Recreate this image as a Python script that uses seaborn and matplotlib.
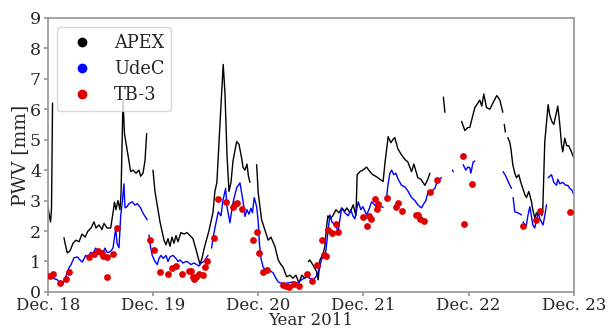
import numpy as np
import pandas as pd
import matplotlib
matplotlib.use('Agg')
import matplotlib.pyplot as plt
import matplotlib.dates as mdates
import seaborn as sns

# days after Dec 18 2011 00:00, PWV in mm; each inner list is one unbroken stretch
apex_days = [
    [0.0, 0.01, 0.024, 0.033, 0.043],
    [0.152, 0.162, 0.183, 0.209, 0.238, 0.266, 0.295, 0.323, 0.352, 0.380, 0.409, 0.437, 0.456, 0.485,
     0.513, 0.532, 0.561, 0.596, 0.618, 0.632, 0.646, 0.665, 0.684, 0.694, 0.713, 0.727, 0.741, 0.760,
     0.786, 0.808, 0.837, 0.865, 0.881, 0.903, 0.922, 0.938],
    [0.998, 1.017, 1.036, 1.065, 1.084, 1.103, 1.122, 1.141, 1.160, 1.179, 1.198, 1.217, 1.236, 1.264,
     1.293, 1.321, 1.350, 1.378, 1.407, 1.426, 1.445, 1.464, 1.483, 1.502, 1.530, 1.549, 1.568, 1.587,
     1.606, 1.635, 1.666, 1.683, 1.702, 1.721, 1.740, 1.759, 1.794, 1.816, 1.841, 1.854, 1.873, 1.892,
     1.906, 1.920],
    [1.984, 1.999, 2.031, 2.062, 2.094, 2.120, 2.158, 2.189, 2.215, 2.237, 2.269, 2.300, 2.329, 2.357,
     2.386, 2.414, 2.443, 2.459],
    [2.476, 2.490, 2.522, 2.554, 2.569, 2.586, 2.617, 2.633, 2.649, 2.662, 2.681, 2.709, 2.738, 2.766,
     2.795, 2.823, 2.842, 2.871, 2.902, 2.928, 2.940, 2.966, 2.994, 3.030, 3.061, 3.089, 3.125, 3.156,
     3.187, 3.203, 3.235, 3.260, 3.279, 3.298, 3.327, 3.362, 3.394, 3.422, 3.457, 3.479, 3.517, 3.546,
     3.584, 3.612, 3.631],
    [3.760, 3.774],
    [3.933, 3.964, 3.992, 4.011, 4.040, 4.059, 4.087, 4.106, 4.125, 4.144, 4.170, 4.202, 4.230, 4.268,
     4.297, 4.325],
    [4.339, 4.349],
    [4.373, 4.392, 4.401, 4.420, 4.439, 4.455, 4.477, 4.496, 4.515, 4.534, 4.550, 4.572, 4.598, 4.610,
     4.629, 4.645, 4.658, 4.677, 4.696, 4.705, 4.724, 4.756, 4.772, 4.791, 4.810, 4.829, 4.848, 4.867,
     4.883, 4.895, 4.914, 4.933, 4.952, 4.978, 5.0],
]
apex_pwv = [
    [2.8, 2.55, 2.3, 2.7, 6.2],
    [1.78, 1.6, 1.28, 1.35, 1.6, 1.7, 1.65, 1.9, 1.8, 2.0, 2.1, 2.3, 2.1, 2.2, 2.05, 2.25, 2.1, 2.1,
     2.6, 2.95, 2.7, 3.0, 2.7, 3.2, 6.3, 5.2, 4.9, 4.5, 3.95, 4.0, 3.9, 4.0, 3.8, 3.9, 4.3, 5.2],
    [4.0, 3.3, 2.9, 2.3, 2.0, 1.7, 1.55, 1.75, 1.5, 1.8, 1.6, 1.85, 1.65, 1.95, 1.9, 1.95, 1.85, 1.75,
     1.4, 1.15, 0.9, 1.1, 1.4, 1.65, 2.0, 2.3, 2.6, 3.3, 3.6, 5.5, 7.47, 6.5, 4.5, 3.3, 3.6, 4.3, 4.94,
     4.85, 4.4, 4.1, 4.0, 4.2, 3.8, 3.6],
    [4.18, 3.25, 2.37, 2.04, 1.7, 1.8, 1.49, 1.05, 0.9, 0.8, 0.5, 0.55, 0.45, 0.55, 0.3, 0.55, 0.45, 0.5],
    [1.0, 1.05, 0.87, 0.67, 0.4, 1.05, 1.27, 1.5, 2.15, 2.5, 2.4, 2.5, 2.7, 2.6, 2.75, 2.65, 2.76, 2.6,
     2.86, 2.5, 3.85, 3.95, 4.0, 4.1, 3.95, 3.85, 3.78, 3.7, 3.63, 4.2, 5.1, 4.9, 5.0, 5.07, 4.7, 4.5,
     4.35, 4.27, 3.95, 4.2, 3.75, 3.7, 3.5, 3.7, 3.9],
    [6.4, 5.9],
    [5.6, 5.3, 5.4, 5.4, 5.8, 6.05, 6.2, 6.3, 6.1, 6.5, 6.05, 6.0, 6.2, 6.45, 6.3, 5.9],
    [5.5, 5.25],
    [5.07, 4.9, 4.73, 4.18, 3.9, 3.75, 3.85, 3.6, 3.4, 3.2, 3.1, 3.3, 2.96, 2.7, 2.43, 2.6, 2.5, 2.7,
     2.5, 2.7, 4.93, 6.15, 5.8, 5.6, 5.5, 5.8, 6.1, 5.5, 4.85, 4.6, 5.05, 4.8, 4.8, 4.6, 4.4],
]

udec_days = [
    [0.0, 0.019, 0.048, 0.088, 0.114, 0.136, 0.152, 0.168, 0.2, 0.219, 0.247, 0.279, 0.304, 0.326,
     0.358, 0.380, 0.406, 0.428, 0.453, 0.475, 0.501, 0.523, 0.542, 0.561, 0.580, 0.599, 0.618, 0.632,
     0.644, 0.656, 0.675, 0.691, 0.708, 0.722, 0.732, 0.751, 0.770, 0.801, 0.827, 0.849, 0.881, 0.894,
     0.913, 0.944],
    [0.960, 0.974, 0.991, 1.017, 1.039, 1.055, 1.074, 1.096, 1.122, 1.141, 1.160, 1.188, 1.217, 1.236,
     1.255, 1.283, 1.312, 1.331, 1.359, 1.388, 1.413, 1.435, 1.454, 1.483, 1.502, 1.521],
    [1.556, 1.568, 1.587, 1.619, 1.645, 1.663, 1.689, 1.702, 1.730, 1.744, 1.761, 1.794, 1.825, 1.844,
     1.858, 1.873, 1.892, 1.911, 1.930, 1.944, 1.961, 1.984, 1.999, 2.010, 2.025, 2.047, 2.072, 2.094,
     2.120, 2.142, 2.167, 2.189, 2.224, 2.253, 2.291, 2.332, 2.367, 2.412, 2.433, 2.459, 2.490, 2.522,
     2.548, 2.569, 2.586, 2.595, 2.617, 2.633, 2.649, 2.662, 2.681, 2.700, 2.728, 2.760, 2.792, 2.823,
     2.855, 2.880, 2.899, 2.918, 2.950, 2.975, 2.994, 3.030, 3.051, 3.077, 3.108, 3.137, 3.165, 3.187],
    [3.220, 3.232, 3.251, 3.267, 3.289, 3.308, 3.330, 3.362, 3.394, 3.425, 3.457, 3.489, 3.520, 3.552,
     3.574, 3.593, 3.615, 3.641, 3.660, 3.679, 3.698, 3.717, 3.742],
    [3.845, 3.855],
    [3.948, 3.973, 3.992, 4.011, 4.021, 4.043, 4.059],
    [4.328, 4.354, 4.373, 4.392, 4.408],
    [4.423, 4.439, 4.468, 4.503],
    [4.518, 4.534, 4.550, 4.563, 4.582, 4.601, 4.610, 4.629, 4.648, 4.661, 4.677, 4.708, 4.724, 4.740],
    [4.756, 4.772, 4.788, 4.810, 4.836, 4.848, 4.867, 4.895, 4.924, 4.943, 4.962, 4.981, 5.0],
]
udec_pwv = [
    [0.66, 0.5, 0.45, 0.4, 0.3, 0.23, 0.35, 0.5, 0.8, 0.9, 1.12, 1.15, 1.05, 0.98, 1.2, 1.15, 1.3, 1.25,
     1.44, 1.35, 1.2, 1.3, 1.44, 1.3, 1.3, 1.35, 1.44, 1.8, 2.1, 1.6, 1.45, 2.5, 3.0, 3.55, 2.76, 2.8,
     2.9, 2.96, 2.85, 2.9, 2.76, 2.65, 2.53, 2.37],
    [1.87, 1.5, 1.2, 1.0, 0.9, 1.1, 1.2, 1.1, 1.2, 1.0, 1.15, 1.2, 1.1, 1.0, 1.05, 0.95, 1.0, 0.98, 0.9,
     0.95, 0.9, 0.85, 0.95, 1.0, 1.1, 1.2],
    [1.44, 1.75, 2.1, 2.63, 2.5, 3.0, 3.4, 2.8, 2.27, 2.6, 2.96, 3.42, 3.58, 3.2, 2.9, 2.48, 2.7, 2.55,
     2.75, 2.6, 3.1, 2.8, 2.3, 1.6, 1.1, 0.8, 0.72, 0.72, 0.68, 0.62, 0.45, 0.33, 0.28, 0.28, 0.3, 0.33,
     0.28, 0.4, 0.45, 0.5, 0.45, 0.4, 0.5, 0.66, 0.8, 1.0, 1.2, 1.1, 1.55, 2.0, 2.53, 2.3, 2.2, 2.0,
     2.76, 2.6, 2.5, 2.7, 2.5, 2.4, 2.96, 2.7, 2.8, 2.53, 2.7, 2.96, 2.85, 2.76, 2.8, 2.78],
    [3.1, 3.5, 3.9, 4.0, 3.85, 3.9, 3.7, 3.5, 3.45, 3.3, 3.1, 3.0, 2.85, 2.76, 2.9, 3.0, 3.3, 3.2, 3.35,
     3.4, 3.6, 3.7, 3.75],
    [4.0, 3.95],
    [4.18, 4.0, 4.1, 4.08, 3.9, 4.27, 4.3],
    [3.95, 3.8, 3.65, 3.5, 3.4],
    [3.1, 2.63, 2.6, 2.53],
    [2.3, 2.2, 2.2, 2.5, 2.8, 2.4, 2.2, 2.1, 2.4, 2.63, 2.4, 2.2, 2.5, 2.86],
    [3.75, 3.8, 3.85, 3.6, 3.5, 3.7, 3.55, 3.6, 3.5, 3.5, 3.4, 3.35, 3.2],
]

tb3_days = [0.019, 0.045, 0.114, 0.171, 0.202, 0.393, 0.440, 0.472, 0.510, 0.526, 0.558, 0.564, 0.615,
            0.653, 0.970, 1.008, 1.065, 1.138, 1.176, 1.214, 1.271, 1.343, 1.362, 1.381, 1.391, 1.407,
            1.435, 1.476, 1.492, 1.514, 1.581, 1.621, 1.695, 1.761, 1.778, 1.794, 1.847, 1.952, 1.990,
            2.009, 2.047, 2.085, 2.237, 2.262, 2.288, 2.341, 2.388, 2.459, 2.512, 2.562, 2.603, 2.621,
            2.646, 2.664, 2.697, 2.738, 2.754, 2.991, 3.030, 3.049, 3.068, 3.105, 3.125, 3.140, 3.220,
            3.308, 3.330, 3.364, 3.496, 3.514, 3.536, 3.571, 3.631, 3.701, 3.942, 3.957, 4.035, 4.518,
            4.645, 4.683, 4.962]
tb3_pwv = [0.53, 0.58, 0.31, 0.42, 0.64, 1.14, 1.26, 1.36, 1.27, 1.17, 0.50, 1.14, 1.26, 2.10, 1.69,
           1.38, 0.67, 0.60, 0.78, 0.86, 0.60, 0.70, 0.68, 0.50, 0.44, 0.50, 0.60, 0.55, 0.83, 1.00, 1.76,
           3.06, 2.95, 2.80, 2.88, 2.92, 2.73, 1.71, 1.96, 1.27, 0.67, 0.72, 0.22, 0.20, 0.15, 0.26, 0.18,
           0.58, 0.35, 0.89, 1.71, 1.20, 1.19, 2.03, 1.95, 2.22, 1.96, 2.45, 2.18, 2.50, 2.40, 3.05, 2.72,
           2.90, 3.07, 2.80, 2.92, 2.66, 2.52, 2.52, 2.39, 2.34, 3.29, 3.66, 4.47, 2.23, 3.54, 2.17, 2.35,
           2.67, 2.62]

tick_days = ['2011-12-18', '2011-12-19', '2011-12-20', '2011-12-21', '2011-12-22', '2011-12-23']
t0 = pd.Timestamp('2011-12-18')


def to_frame(days, pwv):
    rows = []
    for i, (d, v) in enumerate(zip(days, pwv)):
        rows.append(pd.DataFrame({'time': t0 + pd.to_timedelta(d, unit='D'), 'pwv': v, 'seg': i}))
    return pd.concat(rows, ignore_index=True)


apex = to_frame(apex_days, apex_pwv)
udec = to_frame(udec_days, udec_pwv)
tb3 = pd.DataFrame({'time': t0 + pd.to_timedelta(tb3_days, unit='D'), 'pwv': tb3_pwv})

sns.set_theme(style='white')
plt.rcParams['font.family'] = ['DejaVu Serif']

fig = plt.figure(figsize=(6.11, 3.31), dpi=100)
ax = fig.add_axes([0.0786, 0.118, 0.8605, 0.828])

sns.lineplot(data=apex, x='time', y='pwv', units='seg', estimator=None, color='black',
             lw=1.0, ax=ax)
sns.lineplot(data=udec, x='time', y='pwv', units='seg', estimator=None, color='#0000ff',
             lw=1.0, ax=ax)
sns.scatterplot(data=tb3, x='time', y='pwv', color='#e00000', s=24, linewidth=0, ax=ax, zorder=5)

ax.set_xlim(pd.Timestamp(tick_days[0]), pd.Timestamp(tick_days[-1]))
ax.set_ylim(0, 9)
ax.set_xticks(pd.to_datetime(tick_days))
ax.xaxis.set_major_formatter(mdates.DateFormatter('%b. %d'))
ax.set_yticks(range(10))
ax.tick_params(axis='x', labelsize=12, length=3, color='#999999', bottom=True, pad=1)
ax.tick_params(axis='y', labelsize=12.5, length=3, color='#999999', left=True, pad=2)
for sp in ax.spines.values():
    sp.set_color('#999999')
ax.set_xlabel('Year 2011', fontsize=12, labelpad=-1.5)
ax.set_ylabel('PWV [mm]', fontsize=13.5, labelpad=1)

handles = [plt.Line2D([], [], ls='', marker='o', ms=6, color=c) for c in ['black', '#0000ff', '#e00000']]
ax.legend(handles, ['APEX', 'UdeC', 'TB-3'], loc='upper left', fontsize=12.8, frameon=True,
          handletextpad=0.8, borderpad=0.4, labelspacing=0.45, bbox_to_anchor=(0.0, 1.0))

fig.savefig('out.png', dpi=100)
